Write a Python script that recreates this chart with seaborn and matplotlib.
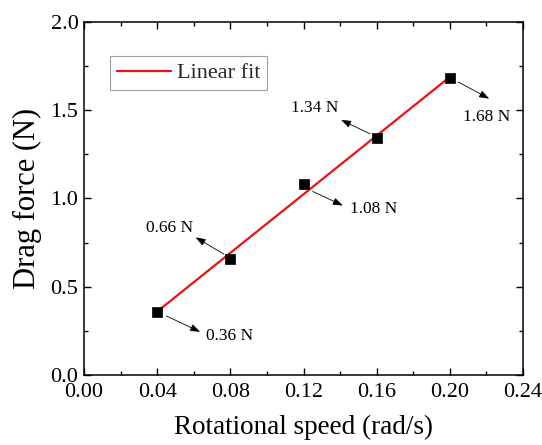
import numpy as np
import pandas as pd
import matplotlib
matplotlib.use("Agg")
import matplotlib.pyplot as plt
from matplotlib.ticker import MultipleLocator, FormatStrFormatter
import seaborn as sns

# Measured drag force at each rotational speed
speed = [0.04, 0.08, 0.12, 0.16, 0.20]
force = [0.36, 0.66, 1.08, 1.34, 1.68]
labels = ["0.36 N", "0.66 N", "1.08 N", "1.34 N", "1.68 N"]

# Where each value label sits (data coords) and its alignment
label_xy = [(0.0665, 0.22), (0.0595, 0.835), (0.1455, 0.94), (0.139, 1.51), (0.2072, 1.46)]
label_ha = ["left", "right", "left", "right", "left"]
# Arrow tails and heads for the value labels (data coords)
tail_xy = [(0.045, 0.335), (0.0765, 0.685), (0.125, 1.04), (0.1565, 1.365), (0.2045, 1.66)]
head_xy = [(0.0635, 0.245), (0.061, 0.78), (0.1415, 0.96), (0.1405, 1.445), (0.2215, 1.565)]

df = pd.DataFrame({"speed": speed, "force": force})

sns.set_theme(style="ticks")
plt.rcParams["font.family"] = ["serif"]
plt.rcParams["font.serif"] = ["Liberation Serif", "DejaVu Serif"]
SERIF = ["Liberation Serif", "DejaVu Serif"]

fig = plt.figure(figsize=(5.42, 4.45), dpi=100)
ax = fig.add_axes([0.155, 0.157, 0.81, 0.794])

sns.regplot(data=df, x="speed", y="force", ci=None, ax=ax, scatter=False,
            label="Linear fit", line_kws=dict(color="#ee1111", lw=1.6))
sns.scatterplot(data=df, x="speed", y="force", ax=ax, marker="s", s=62,
                color="black", edgecolor="black", linewidth=0.5, zorder=3)

for (tx, ty), (hx, hy), (lx, ly), ha, txt in zip(tail_xy, head_xy, label_xy, label_ha, labels):
    ax.annotate("", xy=(hx, hy), xytext=(tx, ty),
                arrowprops=dict(arrowstyle="-|>,head_length=0.5,head_width=0.18",
                                color="black", lw=0.6, shrinkA=0, shrinkB=0))
    ax.text(lx, ly, txt, ha=ha, va="center", fontsize=12.5, color="black", family=SERIF)

ax.set_xlim(0.0, 0.24)
ax.set_ylim(0.0, 2.0)
ax.xaxis.set_major_locator(MultipleLocator(0.04))
ax.xaxis.set_minor_locator(MultipleLocator(0.02))
ax.yaxis.set_major_locator(MultipleLocator(0.5))
ax.yaxis.set_minor_locator(MultipleLocator(0.25))
ax.xaxis.set_major_formatter(FormatStrFormatter("%.2f"))
ax.yaxis.set_major_formatter(FormatStrFormatter("%.1f"))
ax.tick_params(which="both", direction="in", top=True, right=True,
               color="black", width=1.0, labelsize=16, labelcolor="black")
ax.tick_params(axis="x", pad=6)
ax.tick_params(axis="y", pad=4)
ax.tick_params(which="major", length=5)
ax.tick_params(which="minor", length=3)
for t in ax.get_xticklabels() + ax.get_yticklabels():
    t.set_family(SERIF)
for sp in ax.spines.values():
    sp.set_visible(True)
    sp.set_color("black")
    sp.set_linewidth(1.1)

ax.set_xlabel("Rotational speed (rad/s)", fontsize=19.5, color="black", labelpad=9, family=SERIF)
ax.set_ylabel("Drag force (N)", fontsize=22, color="black", labelpad=6, family=SERIF)

leg = ax.legend(loc="upper left", bbox_to_anchor=(0.059, 0.903), borderaxespad=0,
                prop=dict(family=SERIF, size=16), frameon=True, fancybox=False,
                handlelength=2.45, handletextpad=0.25, borderpad=0.3)
leg.get_frame().set_edgecolor("#888888")
leg.get_frame().set_linewidth(0.8)

fig.savefig("out.png", dpi=100, facecolor="white")
